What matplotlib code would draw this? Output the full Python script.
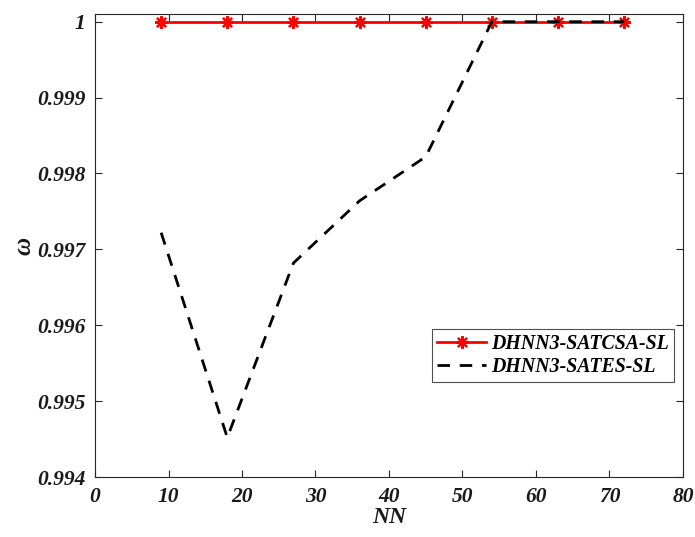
import matplotlib
matplotlib.use("Agg")
import matplotlib.pyplot as plt

# data
nn = [9, 18, 27, 36, 45, 54, 63, 72]
omega_csa = [1.0, 1.0, 1.0, 1.0, 1.0, 1.0, 1.0, 1.0]
omega_es = [0.99722, 0.99452, 0.99682, 0.99764, 0.99822, 1.0, 1.0, 1.0]
x_ticks = [0, 10, 20, 30, 40, 50, 60, 70, 80]
y_ticks = [0.994, 0.995, 0.996, 0.997, 0.998, 0.999, 1.0]
y_labels = ["0.994", "0.995", "0.996", "0.997", "0.998", "0.999", "1"]

plt.rcParams['font.family'] = ['Liberation Serif', 'DejaVu Serif']
plt.rcParams['font.weight'] = 'bold'
plt.rcParams['font.style'] = 'italic'
plt.rcParams['axes.labelweight'] = 'bold'

fig = plt.figure(figsize=(6.95, 5.37), dpi=100)
ax = fig.add_axes([0.1367, 0.1117, 0.846, 0.862])

ax.plot(nn, omega_csa, color='red', lw=2, marker=(8, 2, 0), ms=9, mew=1.6,
        label='DHNN3-SATCSA-SL')
ax.plot(nn, omega_es, color='black', lw=2, ls=(0, (4.5, 3.5)),
        label='DHNN3-SATES-SL')

ax.set_xlim(0, 80)
ax.set_ylim(0.994, 1.0001)
ax.set_xticks(x_ticks)
ax.set_yticks(y_ticks)
ax.set_yticklabels(y_labels)
ax.tick_params(direction='in', length=5, width=0.8, colors='#262626',
               labelsize=15.5, top=True, right=True, pad=7)
for lab in ax.get_xticklabels() + ax.get_yticklabels():
    lab.set_color('#1a1a1a')
for s in ax.spines.values():
    s.set_color('#262626')
    s.set_linewidth(0.8)

ax.set_xlabel('NN', fontsize=17, labelpad=0, color='#1a1a1a')
ax.set_ylabel('ω', fontsize=18, labelpad=1, color='#1a1a1a')

leg = ax.legend(loc='lower right', bbox_to_anchor=(0.985, 0.205), fontsize=14.3,
                frameon=True, fancybox=False, edgecolor='#262626',
                handlelength=2.5, borderpad=0.25, labelspacing=0.15,
                handletextpad=0.25, borderaxespad=0)
leg.get_frame().set_linewidth(0.8)

fig.savefig('out.png', dpi=100)
